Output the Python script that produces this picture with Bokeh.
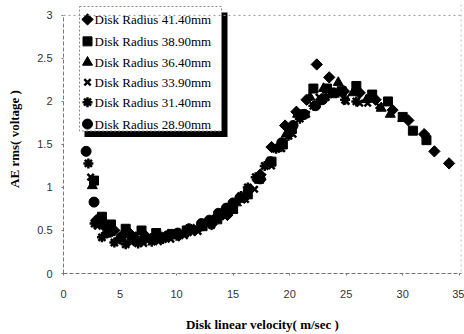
import math
from bokeh.plotting import figure
from bokeh.models import Span, Range1d
from bokeh.core.properties import value
from bokeh.embed import file_html
from bokeh.resources import INLINE

# Disk linear velocity (m/s) and AE rms (V) per disk radius
x_4140 = [2.9, 3.6, 4.5, 5.9, 7.3, 8.7, 10.2, 11.6, 13.1, 14.5, 16.0, 17.4, 18.4, 19.6, 20.6, 21.5, 22.4, 23.5, 24.8, 26.2, 27.6, 29.1, 30.5, 31.9, 32.8, 34.1]
y_4140 = [0.62, 0.55, 0.50, 0.46, 0.43, 0.42, 0.44, 0.50, 0.57, 0.68, 0.88, 1.15, 1.47, 1.72, 1.88, 2.02, 2.43, 2.28, 2.12, 2.10, 2.02, 1.90, 1.78, 1.62, 1.42, 1.28]

x_3890 = [2.7, 3.4, 4.2, 5.5, 6.9, 8.2, 9.6, 10.9, 12.3, 13.6, 15.0, 16.3, 17.3, 18.4, 19.4, 20.2, 21.0, 22.1, 23.3, 24.6, 25.9, 27.3, 28.7, 30.0, 30.9, 32.1]
y_3890 = [1.08, 0.66, 0.57, 0.52, 0.50, 0.47, 0.46, 0.50, 0.55, 0.63, 0.75, 0.92, 1.10, 1.30, 1.50, 1.68, 1.85, 2.15, 2.15, 2.12, 2.18, 2.08, 2.00, 1.82, 1.66, 1.55]

x_3640 = [2.55, 3.2, 4.0, 5.2, 6.4, 7.7, 9.0, 10.2, 11.5, 12.8, 14.1, 15.3, 16.2, 17.2, 18.1, 18.9, 19.7, 20.7, 21.8, 23.0, 24.3, 25.6, 26.8, 28.1, 28.9, 30.0]
y_3640 = [1.02, 0.62, 0.50, 0.45, 0.42, 0.40, 0.42, 0.46, 0.51, 0.58, 0.70, 0.82, 0.95, 1.10, 1.28, 1.45, 1.62, 1.85, 2.05, 2.15, 2.22, 2.10, 2.02, 1.92, 1.85, 1.80]

x_3390 = [2.4, 3.0, 3.7, 4.8, 6.0, 7.1, 8.4, 9.5, 10.7, 11.9, 13.1, 14.3, 15.1, 16.1, 16.9, 17.6, 18.4, 19.3, 20.3, 21.5, 22.6, 23.9, 25.0, 26.2, 26.9, 27.9]
y_3390 = [1.12, 0.55, 0.45, 0.38, 0.36, 0.35, 0.37, 0.40, 0.44, 0.49, 0.56, 0.66, 0.74, 0.86, 0.98, 1.12, 1.25, 1.45, 1.62, 1.85, 2.05, 2.08, 2.00, 1.98, 1.98, 1.95]

x_3140 = [2.2, 2.75, 3.4, 4.5, 5.5, 6.6, 7.8, 8.8, 10.0, 11.0, 12.1, 13.2, 14.0, 14.9, 15.7, 16.3, 17.0, 17.8, 18.8, 19.9, 20.9, 22.1, 23.2, 24.3, 24.9, 25.9]
y_3140 = [1.28, 0.58, 0.42, 0.36, 0.34, 0.35, 0.37, 0.40, 0.44, 0.48, 0.54, 0.62, 0.70, 0.80, 0.90, 1.00, 1.12, 1.25, 1.45, 1.60, 1.80, 1.95, 2.05, 2.10, 2.02, 2.00]

x_2890 = [2.0, 2.7, 3.1, 4.1, 5.1, 6.1, 7.1, 8.1, 9.2, 10.1, 11.1, 12.2, 12.9, 13.7, 14.4, 15.0, 15.6, 16.4, 17.4, 18.3, 19.3, 20.3, 21.3, 22.3, 22.9, 23.9]
y_2890 = [1.42, 0.83, 0.60, 0.48, 0.42, 0.40, 0.40, 0.42, 0.44, 0.47, 0.52, 0.58, 0.62, 0.70, 0.76, 0.82, 0.88, 0.98, 1.10, 1.30, 1.52, 1.72, 1.85, 1.95, 2.02, 2.10]

labels = ["Disk Radius 41.40mm", "Disk Radius 38.90mm", "Disk Radius 36.40mm",
          "Disk Radius 33.90mm", "Disk Radius 31.40mm", "Disk Radius 28.90mm"]
x_ticks = [0, 5, 10, 15, 20, 25, 30, 35]
y_ticks = [0, 0.5, 1, 1.5, 2, 2.5, 3]

# (x, y, marker, size, rotation)
series = [
    (x_4140, y_4140, "square", 8, math.pi / 4),
    (x_3890, y_3890, "square", 9, 0),
    (x_3640, y_3640, "triangle", 10, 0),
    (x_3390, y_3390, "x", 9, 0),
    (x_3140, y_3140, "asterisk", 10, 0),
    (x_2890, y_2890, "circle", 10, 0),
]

W, H = 464, 334
LEFT, RIGHT, TOP, BOTTOM = 63, 3, 4, 60
X_END, Y_END = 35.2, 3.127

p = figure(width=W, height=H, output_backend="svg", toolbar_location=None,
           x_range=Range1d(0, X_END), y_range=Range1d(0, Y_END),
           min_border_left=LEFT, min_border_right=RIGHT,
           min_border_top=TOP, min_border_bottom=BOTTOM)
p.outline_line_color = None
p.xgrid.visible = False
p.ygrid.visible = False
p.background_fill_color = "white"
p.border_fill_color = "white"

# screen-pixel helpers for the legend block
fw = W - LEFT - RIGHT
fh = H - TOP - BOTTOM
def px_x(px):
    return (px - LEFT) / fw * X_END
def px_y(py):
    return (H - BOTTOM - py) / fh * Y_END

# frame edges (dotted)
p.add_layout(Span(location=3, dimension="width", line_color="#999999",
                  line_dash="2 3", line_width=1))
p.add_layout(Span(location=X_END - 0.02, dimension="height", line_color="#999999",
                  line_dash="2 3", line_width=1))

def draw(xs, ys, mk, sz, ang):
    lw = 2.5 if mk in ("x", "asterisk") else 1
    p.scatter(xs, ys, marker=mk, size=sz, angle=ang, fill_color="black",
              line_color="black", line_width=lw)

for xs, ys, mk, sz, ang in series:
    draw(xs, ys, mk, sz, ang)

# legend box with drop shadow
p.quad(left=[px_x(84)], right=[px_x(227)], top=[px_y(12)], bottom=[px_y(137)],
       fill_color="black", line_color=None)
p.quad(left=[px_x(79)], right=[px_x(221)], top=[px_y(6)], bottom=[px_y(131)],
       fill_color="white", line_color="#888888", line_dash="2 2", line_width=1)
row_y = [19, 41, 62, 82, 102, 124]
for (xs, ys, mk, sz, ang), ry, lab in zip(series, row_y, labels):
    draw([px_x(87)], [px_y(ry)], mk, sz, ang)
    p.text([px_x(94)], [px_y(ry)], text=[lab], text_font=value("Liberation Serif"),
           text_font_size="13px", text_baseline="middle", text_align="left",
           text_color="black")

for ax in (p.xaxis[0], p.yaxis[0]):
    ax.axis_line_color = "#777777"
    ax.axis_line_dash = "4 2"
    ax.major_tick_line_color = "#777777"
    ax.major_tick_out = 2
    ax.major_tick_in = 0
    ax.minor_tick_line_color = None
    ax.major_label_text_font = "Liberation Sans"
    ax.major_label_text_font_size = "11px"
    ax.major_label_text_color = "#333333"
    ax.axis_label_text_font = "Liberation Serif"
    ax.axis_label_text_font_style = "bold"
    ax.axis_label_text_font_size = "13px"
    ax.axis_label_text_color = "black"

p.xaxis[0].ticker = x_ticks
p.yaxis[0].ticker = y_ticks
p.yaxis[0].bounds = (0, 3)
p.yaxis[0].major_label_overrides = {0: "0", 0.5: "0.5", 1: "1", 1.5: "1.5", 2: "2", 2.5: "2.5", 3: "3"}
p.xaxis[0].major_label_standoff = 14
p.yaxis[0].major_label_standoff = 9
p.xaxis[0].axis_label = "Disk linear velocity( m/sec )"
p.yaxis[0].axis_label = "AE rms( voltage )"
p.xaxis[0].axis_label_standoff = 16
p.yaxis[0].axis_label_standoff = 12

open("out.html", "w").write(file_html(p, INLINE))
